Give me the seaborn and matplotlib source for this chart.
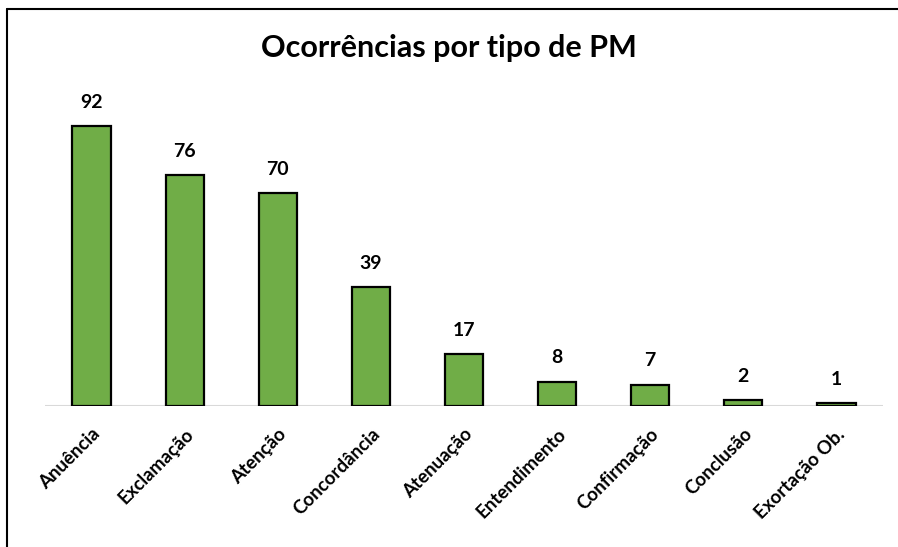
import matplotlib
matplotlib.use("Agg")
import matplotlib.pyplot as plt
import pandas as pd
import seaborn as sns
from matplotlib.lines import Line2D

categories = ["Anuência", "Exclamação", "Atenção", "Concordância", "Atenuação",
              "Entendimento", "Confirmação", "Conclusão", "Exortação Ob."]
counts = [92, 76, 70, 39, 17, 8, 7, 2, 1]

df = pd.DataFrame({"tipo": categories, "ocorrencias": counts})

sns.set_style("white")
plt.rcParams["font.family"] = ["Lato", "DejaVu Sans"]
plt.rcParams["text.color"] = "black"
plt.rcParams["xtick.color"] = "black"
plt.rcParams["xtick.labelcolor"] = "black"

fig = plt.figure(figsize=(8.98, 5.47), dpi=100)
ax = fig.add_axes([0.0501, 0.2578, 0.9332, 0.5557])

sns.barplot(data=df, x="tipo", y="ocorrencias", color="#70AD47", saturation=1,
            width=0.41, edgecolor="black", linewidth=1.6, ax=ax)

ax.set_ylim(0, 100)
ax.set_xlim(-0.5, len(categories) - 0.5)
for s in ax.spines.values():
    s.set_visible(False)
ax.axhline(0, color="#D9D9D9", linewidth=1.5, zorder=0)
ax.set_yticks([])
ax.set_xlabel("")
ax.set_ylabel("")
ax.tick_params(axis="x", length=0, pad=14, labelcolor="black")
ax.set_xticks(range(len(categories)))
ax.set_xticklabels(categories, rotation=45, ha="right", rotation_mode="anchor",
                   fontsize=13.5, fontweight="bold", color="black")

for container in ax.containers:
    ax.bar_label(container, fontsize=14, fontweight="bold", padding=11, color="black")

fig.text(0.5, 0.912, "Ocorrências por tipo de PM", ha="center", va="center",
         fontsize=22, fontweight="bold", color="black")

# chart border (top and left visible)
fig.add_artist(Line2D([0.0078, 1.0], [0.9835, 0.9835], color="black", linewidth=1.5,
                      transform=fig.transFigure))
fig.add_artist(Line2D([0.0078, 0.0078], [0.0, 0.9835], color="black", linewidth=1.5,
                      transform=fig.transFigure))

plt.savefig("out.png", dpi=100)
plt.close()
